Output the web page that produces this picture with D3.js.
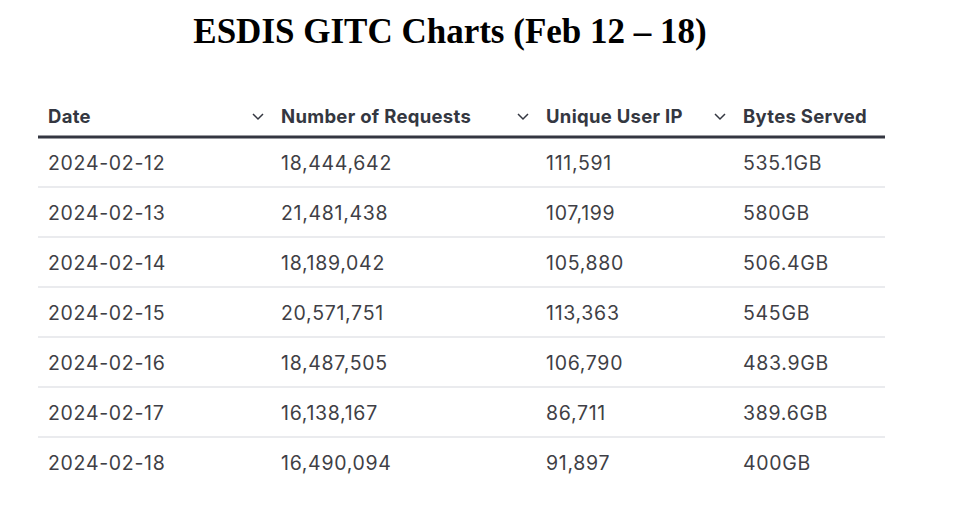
<!DOCTYPE html>
<html lang="en">
<head>
<meta charset="UTF-8">
<style>
    body{ margin:0; background:#fff; }
</style>
</head>
<body>
<div id="chart"></div>
<script src="https://cdn.jsdelivr.net/npm/d3@7"></script>
<script>
    var title = 'ESDIS GITC Charts (Feb 12 \u2013 18)';
    var columns = ['Date', 'Number of Requests', 'Unique User IP', 'Bytes Served'];
    var dates = ['2024-02-12','2024-02-13','2024-02-14','2024-02-15','2024-02-16','2024-02-17','2024-02-18'];
    var requests = [18444642, 21481438, 18189042, 20571751, 18487505, 16138167, 16490094];
    var uniqueIps = [111591, 107199, 105880, 113363, 106790, 86711, 91897];
    var bytesServed = ['535.1GB','580GB','506.4GB','545GB','483.9GB','389.6GB','400GB'];

    var width = 955, height = 531;
    var colX = [48, 281, 546, 743];
    var left = 38, right = 885;

    var svg = d3.select('#chart').append('svg')
        .attr('width', width).attr('height', height);

    svg.append('text')
        .attr('x', 450).attr('y', 43)
        .attr('text-anchor', 'middle')
        .attr('font-family', 'Liberation Serif, Times New Roman, serif')
        .attr('font-weight', 'bold')
        .attr('font-size', '35px')
        .attr('fill', '#000')
        .text(title);

    var yScale = d3.scaleBand()
        .domain(d3.range(dates.length))
        .range([137, 137 + 50 * dates.length]);

    var fmt = d3.format(',');
    var rows = dates.map(function(d, i){
        return [d, fmt(requests[i]), fmt(uniqueIps[i]), bytesServed[i]];
    });

    // header
    var head = svg.append('g').attr('font-family', 'Inter, sans-serif');
    columns.forEach(function(c, i){
        head.append('text')
            .attr('x', colX[i]).attr('y', 123)
            .attr('font-size', '18.5px')
            .attr('font-weight', 700)
            .attr('letter-spacing', '0.3px')
            .attr('fill', '#343741')
            .text(c);
        if (i > 0) {
            var cx = colX[i] - 23;
            head.append('path')
                .attr('d', 'M' + (cx - 5) + ',114 L' + cx + ',119 L' + (cx + 5) + ',114')
                .attr('fill', 'none')
                .attr('stroke', '#343741')
                .attr('stroke-width', 1.5);
        }
    });
    svg.append('line')
        .attr('x1', left).attr('x2', right)
        .attr('y1', 137).attr('y2', 137)
        .attr('stroke', '#343741').attr('stroke-width', 3);

    // body rows
    var rowG = svg.selectAll('.row')
        .data(rows).enter().append('g')
        .attr('class', 'row')
        .attr('transform', function(d, i){ return 'translate(0,' + yScale(i) + ')'; });

    rowG.filter(function(d, i){ return i < rows.length - 1; })
        .append('line')
        .attr('x1', left).attr('x2', right)
        .attr('y1', yScale.bandwidth()).attr('y2', yScale.bandwidth())
        .attr('stroke', '#e3e5e8').attr('stroke-width', 1.5);

    rowG.selectAll('text')
        .data(function(d){ return d; })
        .enter().append('text')
        .attr('x', function(d, i){ return colX[i]; })
        .attr('y', 33)
        .attr('font-family', 'Inter, sans-serif')
        .attr('font-size', '19.5px')
        .attr('letter-spacing', '0.7px')
        .attr('fill', '#3f3f46')
        .text(function(d){ return d; });
</script>
</body>
</html>
